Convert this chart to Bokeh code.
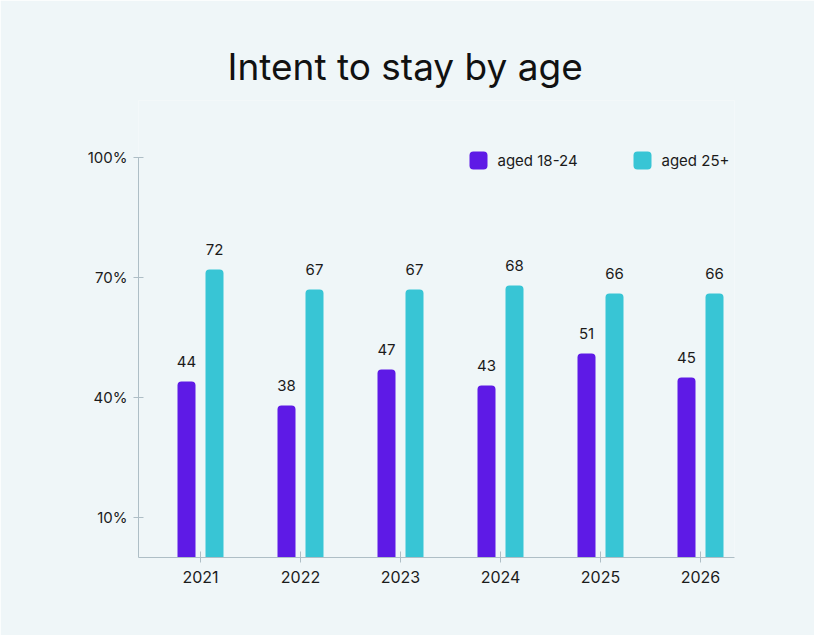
from bokeh.plotting import figure
from bokeh.models import Range1d, FixedTicker, ColumnDataSource
from bokeh.core.properties import value
from bokeh.transform import dodge
from bokeh.embed import file_html
from bokeh.resources import INLINE

# --- data -------------------------------------------------------------
years = ["2021", "2022", "2023", "2024", "2025", "2026"]
aged_18_24 = [44, 38, 47, 43, 51, 45]
aged_25_plus = [72, 67, 67, 68, 66, 66]
y_ticks = [10, 40, 70, 100]
series_names = ["aged 18-24", "aged 25+"]

# --- style ------------------------------------------------------------
BG = "#eff6f8"
PURPLE = "#5e1ae6"
CYAN = "#38c5d5"
AXIS = "#aebec6"
TEXT = "#1b1b1b"
FONT = "Inter"

idx = list(range(len(years)))
src = ColumnDataSource(dict(
    x=idx,
    young=aged_18_24,
    old=aged_25_plus,
    young_lbl=[str(v) for v in aged_18_24],
    old_lbl=[str(v) for v in aged_25_plus],
))

# the frame runs up above 100% to leave room for the legend; the y axis
# line itself stops at 100
p = figure(
    width=814, height=635,
    x_range=Range1d(-0.62, 5.34), y_range=Range1d(0, 114.25),
    output_backend="svg", toolbar_location=None,
    min_border_left=138, min_border_right=80,
    min_border_top=100, min_border_bottom=78,
    background_fill_color=BG, border_fill_color=BG,
)
p.outline_line_color = None
p.grid.visible = False

# title
p.title.text = "Intent to stay by age"
p.title.align = "left"
p.title.offset = 89
p.title.standoff = 24
p.title.text_font = FONT
p.title.text_font_size = "37px"
p.title.text_font_style = "normal"
p.title.text_color = "#111111"

# bars, rounded at the top, dodged either side of each year
off, bw = 0.14, 0.18
p.vbar(x=dodge("x", -off), top="young", width=bw, bottom=0, source=src,
       fill_color=PURPLE, line_color=None, border_radius=(4, 4, 0, 0))
p.vbar(x=dodge("x", off), top="old", width=bw, bottom=0, source=src,
       fill_color=CYAN, line_color=None, border_radius=(4, 4, 0, 0))

# value labels
p.text(x=dodge("x", -off), y="young", text="young_lbl", source=src,
       text_align="center", text_baseline="bottom", y_offset=-15,
       text_font=value(FONT), text_font_size="15px", text_color=TEXT)
p.text(x=dodge("x", off), y="old", text="old_lbl", source=src,
       text_align="center", text_baseline="bottom", y_offset=-15,
       text_font=value(FONT), text_font_size="15px", text_color=TEXT)

# axes
xa = p.xaxis[0]
xa.ticker = FixedTicker(ticks=idx)
xa.major_label_overrides = {i: y for i, y in zip(idx, years)}
xa.minor_tick_line_color = None
xa.major_tick_in = 6
xa.major_tick_out = 5
xa.major_label_standoff = 8
xa.axis_line_color = AXIS
xa.major_tick_line_color = AXIS
xa.major_label_text_font = FONT
xa.major_label_text_font_size = "16px"
xa.major_label_text_color = TEXT

ya = p.yaxis[0]
ya.ticker = FixedTicker(ticks=y_ticks)
ya.major_label_overrides = {t: f"{t}%" for t in y_ticks}
ya.bounds = (0, 100)
ya.minor_tick_line_color = None
ya.major_tick_in = 5
ya.major_tick_out = 5
ya.major_label_standoff = 6
ya.axis_line_color = AXIS
ya.major_tick_line_color = AXIS
ya.major_label_text_font = FONT
ya.major_label_text_font_size = "15px"
ya.major_label_text_color = TEXT

# legend
leg_x = [2.78, 4.42]
leg_y = 99.25
p.rect(x=leg_x, y=[leg_y, leg_y], width=18, height=18,
       width_units="screen", height_units="screen",
       fill_color=[PURPLE, CYAN], line_color=None, border_radius=4)
p.text(x=[x + 0.19 for x in leg_x], y=[leg_y, leg_y], text=series_names,
       text_align="left", text_baseline="middle",
       text_font=value(FONT), text_font_size="15px", text_color=TEXT)

open("out.html", "w").write(file_html(p, INLINE))
